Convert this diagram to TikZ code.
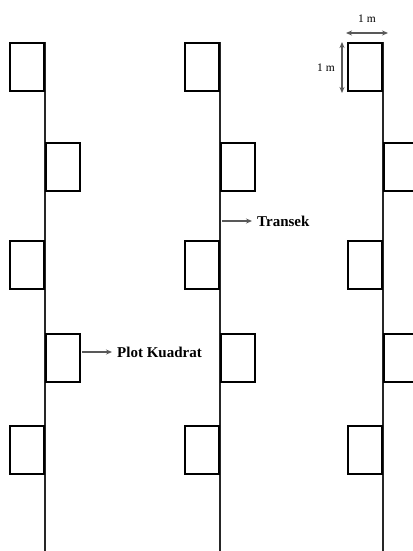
\documentclass[tikz,border=0pt]{standalone}
\usepackage{fontspec}
\setmainfont{Liberation Serif}
\usepackage{tikz}
\usetikzlibrary{arrows.meta, positioning, calc}

\begin{document}
\begin{tikzpicture}[x=1pt, y=-1pt,
  plot/.style={draw, line width=1.9pt, minimum width=34pt, minimum height=48pt, inner sep=0pt},
  left plot/.style={plot, anchor=north east},
  right plot/.style={plot, anchor=north west},
  transect/.style={line width=1.7pt, black!85},
  lbl/.style={font=\bfseries\fontsize{15}{18}\selectfont, inner sep=0pt, anchor=west},
  dim/.style={font=\fontsize{11.5}{13}\selectfont, inner sep=0pt},
  arr/.style={-{Stealth[length=6pt, width=5pt]}, line width=1.1pt, black!65},
  dimarr/.style={{Stealth[length=6pt, width=5pt]}-{Stealth[length=6pt, width=5pt]}, line width=1.1pt, black!65},
]
  \useasboundingbox (0,0) rectangle (412,551);

  % transects
  \coordinate (t1top) at (45,42);  \coordinate (t1bot) at (45,551);
  \coordinate (t2top) at (220,42); \coordinate (t2bot) at (220,551);
  \coordinate (t3top) at (383,42); \coordinate (t3bot) at (383,551);
  \draw[transect] (t1top) -- (t1bot);
  \draw[transect] (t2top) -- (t2bot);
  \draw[transect] (t3top) -- (t3bot);

  % quadrat plots, transect 1
  \node[left plot]  (p11) at (45,42)  {};
  \node[right plot] (p12) at (45,142) {};
  \node[left plot]  (p13) at (45,240) {};
  \node[right plot] (p14) at (45,333) {};
  \node[left plot]  (p15) at (45,425) {};

  % quadrat plots, transect 2
  \node[left plot]  (p21) at (220,42)  {};
  \node[right plot] (p22) at (220,142) {};
  \node[left plot]  (p23) at (220,240) {};
  \node[right plot] (p24) at (220,333) {};
  \node[left plot]  (p25) at (220,425) {};

  % quadrat plots, transect 3
  \node[left plot]  (p31) at (383,42)  {};
  \node[right plot] (p32) at (383,142) {};
  \node[left plot]  (p33) at (383,240) {};
  \node[right plot] (p34) at (383,333) {};
  \node[left plot]  (p35) at (383,425) {};

  % labels
  \node[lbl] (kuadrat) at (117,352) {Plot Kuadrat};
  \coordinate (kd) at ($(p14.east |- kuadrat.west)+(1,0)$);
  \draw[arr] (kd) -- ($(kuadrat.west)+(-5,0)$);

  \node[lbl] (transek) at (257,221) {Transek};
  \coordinate (tr) at ($(transek.west)+(-35,0)$);
  \draw[arr] (tr) -- ($(transek.west)+(-5,0)$);

  % dimensions
  \coordinate (hl) at (346,33); \coordinate (hr) at (388,33);
  \coordinate (vt) at (342,42); \coordinate (vb) at (342,93);
  \draw[dimarr] (hl) -- (hr);
  \draw[dimarr] (vt) -- (vb);
  \node[dim] (wlbl) at (367,19) {1 m};
  \node[dim] (hlbl) at (326,68) {1 m};
\end{tikzpicture}
\end{document}
